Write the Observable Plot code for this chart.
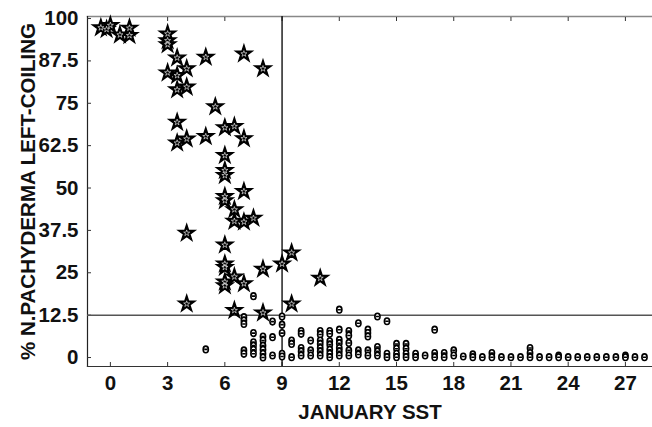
<!DOCTYPE html>
<html><head><meta charset="utf-8">
<script src="https://cdn.jsdelivr.net/npm/d3@7"></script>
<script src="https://cdn.jsdelivr.net/npm/@observablehq/plot@0.6"></script>
<style>html,body{margin:0;padding:0;background:#fff}#chart{position:absolute;left:0;top:0}</style>
</head><body><div id="chart"></div>
<script>
// Star samples (left-coiling dominated)
const starX = [-0.5, 0.0, -0.2, 0.5, 1.0, 1.0,
  3.0, 3.0, 3.0, 3.5, 5.0, 7.0, 8.0, 4.0,
  3.0, 3.5, 3.5, 4.0, 5.5, 3.5, 6.0, 6.5, 7.0, 3.5, 4.0, 5.0,
  6.0, 6.0, 6.0, 6.0, 6.0, 7.0, 6.5, 6.5, 7.0, 7.5, 4.0, 6.0, 6.0, 6.0,
  9.5, 9.0, 8.0, 11.0, 6.0, 6.0, 6.5, 7.0, 4.0, 9.5, 6.5, 8.0];
const starY = [97.3, 98.0, 96.8, 95.2, 97.2, 95.0,
  95.5, 93.5, 92.3, 88.4, 88.6, 89.6, 85.2, 85.2,
  84.0, 83.2, 79.0, 79.8, 74.0, 69.4, 67.8, 68.2, 64.6, 63.3, 64.5, 65.2,
  59.6, 55.2, 53.7, 47.5, 46.3, 49.0, 43.6, 40.2, 40.0, 41.1, 36.7, 33.2, 27.6, 26.6,
  30.9, 27.6, 26.1, 23.4, 22.3, 21.2, 23.8, 21.8, 15.8, 15.8, 13.9, 13.2];

// Circle samples
const circX = [5.0,
  7.0, 7.0, 7.0, 7.0, 7.0,
  7.5, 7.5, 7.5, 7.5, 7.5, 7.5,
  8.0, 8.0, 8.0, 8.0, 8.0, 8.0,
  8.5, 8.5, 8.5,
  9.0, 9.0, 9.0, 9.0, 9.0,
  9.5, 9.5, 9.5,
  10.0, 10.0, 10.0, 10.0, 10.0,
  10.5, 10.5, 10.5,
  11.0, 11.0, 11.0, 11.0, 11.0, 11.0, 11.0,
  11.5, 11.5, 11.5, 11.5, 11.5, 11.5, 11.5,
  12.0, 12.0, 12.0, 12.0, 12.0, 12.0, 12.0,
  12.5, 12.5, 12.5, 12.5, 12.5,
  13.0, 13.0, 13.0,
  13.5, 13.5, 13.5, 13.5, 13.5,
  14.0, 14.0, 14.0, 14.0,
  14.5, 14.5, 14.5,
  15.0, 15.0, 15.0, 15.0,
  15.5, 15.5, 15.5, 15.5,
  16.0, 16.0, 16.5,
  17.0, 17.0, 17.0, 17.5, 17.5, 18.0, 18.0, 18.5, 19.0, 19.0, 19.5,
  20.0, 20.0, 20.5, 21.0, 21.5, 22.0, 22.0, 22.0, 22.5, 23.0, 23.5, 23.5,
  24.0, 24.5, 25.0, 25.5, 26.0, 26.5, 27.0, 27.0, 27.5, 28.0];
const circY = [2.4,
  11.9, 10.9, 9.9, 2.1, 1.1,
  18.1, 7.2, 4.5, 3.5, 2.3, 1.1,
  6.2, 5.0, 3.5, 2.3, 1.1, 0.0,
  10.6, 6.0, 0.6,
  12.1, 9.7, 7.2, 1.1, 0.3,
  5.0, 4.0, 0.1,
  7.8, 7.0, 2.8, 1.8, 0.6,
  5.0, 2.1, 0.6,
  7.8, 6.8, 5.0, 4.0, 2.8, 1.8, 0.6,
  7.8, 7.0, 4.8, 3.8, 2.3, 1.1, 0.1,
  14.1, 8.2, 5.2, 4.2, 2.8, 1.8, 0.6,
  7.8, 6.5, 4.3, 2.1, 0.6,
  10.1, 2.1, 0.9,
  8.2, 7.2, 6.2, 2.1, 0.6,
  12.1, 3.1, 1.8, 0.6,
  10.7, 1.1, 0.1,
  4.0, 2.6, 1.1, 0.1,
  4.0, 2.6, 1.1, 0.1,
  1.1, 0.1, 0.6,
  8.2, 1.3, 0.1, 1.3, 0.1, 2.1, 0.6, 0.3, 0.9, 0.1, 0.1,
  1.3, 0.1, 0.1, 0.1, 0.1, 2.8, 1.3, 0.1, 0.1, 0.1, 0.6, 0.1,
  0.1, 0.1, 0.1, 0.1, 0.1, 0.1, 0.6, 0.1, 0.1, 0.1];

const xTicks = [0, 3, 6, 9, 12, 15, 18, 21, 24, 27];
const yTicks = [0, 12.5, 25, 37.5, 50, 62.5, 75, 87.5, 100];
const sstThreshold = [9];
const coilThreshold = [12.5];
const xTitle = "JANUARY SST";
const yTitle = "% N.PACHYDERMA LEFT-COILING";

const stars = starX.map((x, i) => ({x, y: starY[i]}));
const circles = circX.map((x, i) => ({x, y: circY[i]}));

// Small oval "θ" marker
const oval = {
  draw(ctx) {
    const rx = 2.6, ry = 3.3, k = 0.5523;
    ctx.moveTo(rx, 0);
    ctx.bezierCurveTo(rx, ry * k, rx * k, ry, 0, ry);
    ctx.bezierCurveTo(-rx * k, ry, -rx, ry * k, -rx, 0);
    ctx.bezierCurveTo(-rx, -ry * k, -rx * k, -ry, 0, -ry);
    ctx.bezierCurveTo(rx * k, -ry, rx, -ry * k, rx, 0);
    ctx.closePath();
    ctx.moveTo(-rx * 0.6, 0);
    ctx.lineTo(rx * 0.6, 0);
  }
};

const font = "'Liberation Sans', Arial, sans-serif";

const chart = Plot.plot({
  width: 652,
  height: 427,
  marginLeft: 87,
  marginRight: 0,
  marginTop: 16,
  marginBottom: 61,
  style: {fontFamily: font, fontWeight: "bold", fontSize: "20.5px", color: "#111", background: "#fff"},
  x: {domain: [-1.2, 28.42]},
  y: {domain: [-2.65, 100.6]},
  marks: [
    Plot.frame({anchor: "top", stroke: "#888", strokeWidth: 1.5}),
    Plot.frame({anchor: "left", stroke: "#222", strokeWidth: 1.2}),
    Plot.frame({anchor: "bottom", stroke: "#333", strokeWidth: 1.2}),
    Plot.axisX(xTicks, {anchor: "bottom", tickSize: 0, tickPadding: 9, fontSize: 20.5, fontWeight: "bold",
      label: xTitle, labelAnchor: "center", labelArrow: "none", labelOffset: 52}),
    Plot.axisX(xTicks, {anchor: "bottom", tickSize: -4, tickFormat: () => "", label: null, stroke: "#333"}),
    Plot.axisX(xTicks, {anchor: "top", tickSize: -4, tickFormat: () => "", label: null, stroke: "#333"}),
    Plot.axisY(yTicks, {anchor: "left", tickSize: 0, tickPadding: 9, fontSize: 20.5, fontWeight: "bold",
      tickFormat: d => String(d),
      label: yTitle, labelAnchor: "center", labelArrow: "none", labelOffset: 67}),
    Plot.axisY(yTicks, {anchor: "left", tickSize: -4, tickFormat: () => "", label: null, stroke: "#333"}),
    Plot.ruleX(sstThreshold, {stroke: "#111", strokeWidth: 1.4}),
    Plot.ruleY(coilThreshold, {stroke: "#555", strokeWidth: 1.5}),
    Plot.dot(circles, {x: "x", y: "y", symbol: oval, r: 3, fill: "#fff", stroke: "#000", strokeWidth: 1.6}),
    Plot.dot(stars, {x: "x", y: "y", symbol: "star", r: 5.2, fill: "#000", stroke: "#000", strokeWidth: 1.4}),
    Plot.dot(stars, {x: "x", y: "y", symbol: "star", r: 1.9, fill: "none", stroke: "#fff", strokeWidth: 0.6})
  ]
});
document.getElementById("chart").appendChild(chart);
</script>
</body></html>
